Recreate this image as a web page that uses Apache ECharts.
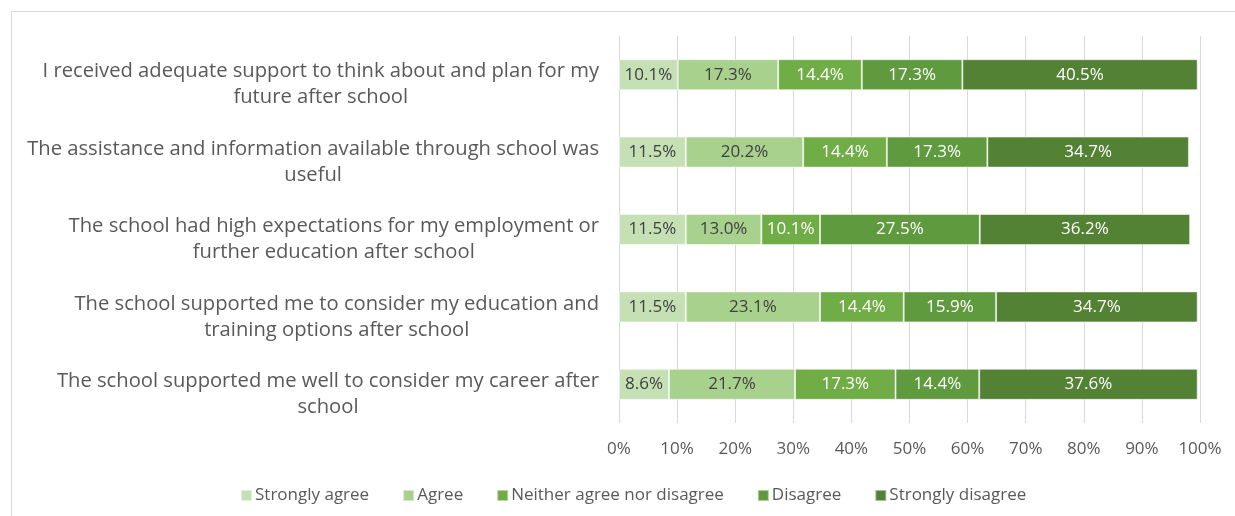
<!DOCTYPE html>
<html><head><meta charset="utf-8">
<script src="https://cdn.jsdelivr.net/npm/echarts@6/dist/echarts.min.js"></script>
<style>
html,body{margin:0;padding:0;background:#fff;}
#frame{position:absolute;left:11px;top:11px;width:1240px;height:520px;border:1px solid #d9d9d9;box-sizing:border-box;}
#c{position:absolute;left:0;top:0;width:1235px;height:516px;}
</style></head>
<body>
<div id="frame"></div>
<div id="c"></div>
<script>
const categories = [
  "I received adequate support to think about and plan for my\nfuture after school",
  "The assistance and information available through school was\nuseful",
  "The school had high expectations for my employment or\nfurther education after school",
  "The school supported me to consider my education and\ntraining options after school",
  "The school supported me well to consider my career after\nschool"
];
const seriesNames = ["Strongly agree","Agree","Neither agree nor disagree","Disagree","Strongly disagree"];
const stronglyAgree = [10.1, 11.5, 11.5, 11.5, 8.6];
const agree = [17.3, 20.2, 13.0, 23.1, 21.7];
const neither = [14.4, 14.4, 10.1, 14.4, 17.3];
const disagree = [17.3, 17.3, 27.5, 15.9, 14.4];
const stronglyDisagree = [40.5, 34.7, 36.2, 34.7, 37.6];
const xTicks = ["0%","10%","20%","30%","40%","50%","60%","70%","80%","90%","100%"];

const colors = ["#c5e0b4","#a9d18e","#70ad47","#5f9b3e","#548235"];
const labelColors = ["#404040","#404040","#ffffff","#ffffff","#ffffff"];
const seriesData = [stronglyAgree, agree, neither, disagree, stronglyDisagree];
const FONT = "Open Sans";

const chart = echarts.init(document.getElementById('c'));
chart.setOption({
  animation:false,
  textStyle:{fontFamily:FONT},
  grid:{left:619,right:35,top:36,bottom:93,containLabel:false},
  legend:{
    left:235, top:482, itemWidth:11, itemHeight:11, itemGap:33,
    icon:'rect',
    textStyle:{fontFamily:FONT,fontSize:17,color:'#595959',padding:[0,0,0,-2]},
    data:seriesNames
  },
  xAxis:{
    type:'value', min:0, max:100, interval:10,
    axisLine:{show:false}, axisTick:{show:false},
    splitLine:{lineStyle:{color:'#d9d9d9',width:1}},
    axisLabel:{margin:18,fontFamily:FONT,fontSize:17,color:'#595959',
      formatter:function(v){return xTicks[Math.round(v/10)];}}
  },
  yAxis:{
    type:'category', inverse:true, data:categories,
    axisLine:{show:false}, axisTick:{show:false},
    axisLabel:{margin:20,align:'right',padding:[20,0,0,0],
      formatter:function(v){return v.split('\n').map(s=>'{c|'+s+'}').join('\n');},
      rich:{c:{align:'center',fontFamily:FONT,fontSize:20.2,color:'#595959',lineHeight:26}}
    }
  },
  series: seriesNames.map((n,i)=>({
    name:n, type:'bar', stack:'all', barWidth:31,
    data:seriesData[i],
    itemStyle:{color:colors[i],borderColor:'rgba(255,255,255,0.5)',borderWidth:1},
    label:{show:true,position:'inside',formatter:p=>p.value.toFixed(1)+'%',
      fontFamily:FONT,fontSize:17,color:labelColors[i]}
  }))
});
</script>
</body></html>
